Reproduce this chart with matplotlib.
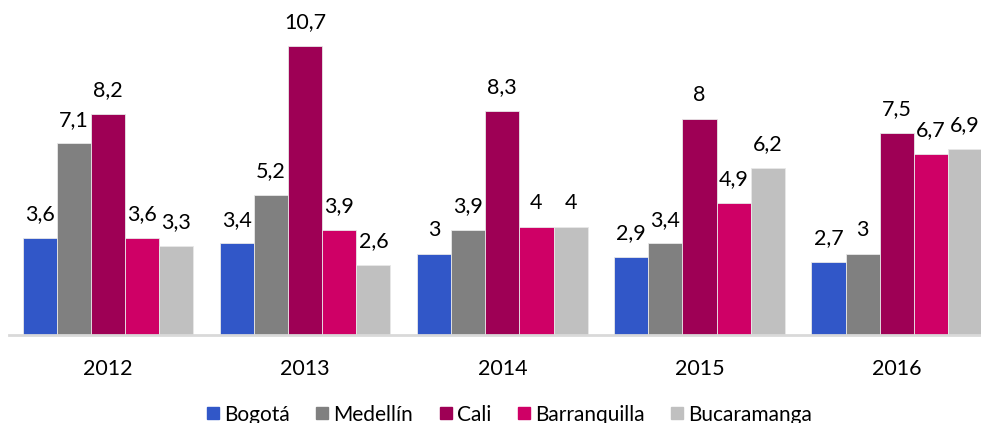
import numpy as np
import matplotlib.pyplot as plt
from matplotlib.lines import Line2D

years = ['2012', '2013', '2014', '2015', '2016']
cities = ['Bogotá', 'Medellín', 'Cali', 'Barranquilla', 'Bucaramanga']
bogota = [3.6, 3.4, 3.0, 2.9, 2.7]
medellin = [7.1, 5.2, 3.9, 3.4, 3.0]
cali = [8.2, 10.7, 8.3, 8.0, 7.5]
barranquilla = [3.6, 3.9, 4.0, 4.9, 6.7]
bucaramanga = [3.3, 2.6, 4.0, 6.2, 6.9]
colors = ['#3157C8', '#808080', '#9E0055', '#CF0066', '#C0C0C0']

series = [bogota, medellin, cali, barranquilla, bucaramanga]

plt.rcParams['font.family'] = ['Lato', 'DejaVu Sans']

fig = plt.figure(figsize=(9.81, 4.23), dpi=100)
ax = fig.add_axes([0.0096, 0.208, 1.005, 0.766])

x = np.arange(len(years))
w = 0.173
for i, (vals, c) in enumerate(zip(series, colors)):
    pos = x + (i - 2) * w
    ax.bar(pos, vals, width=w, color=c, edgecolor='#e8e8e8', linewidth=0.6,
           label=cities[i])
    for xp, v in zip(pos, vals):
        txt = ('%g' % v).replace('.', ',')
        ax.annotate(txt, (xp, v), xytext=(0, 17), textcoords='offset points',
                    ha='center', va='center', fontsize=15.5, color='black')

ax.set_xlim(-0.5, 4.5)
ax.set_ylim(0, 12)
ax.set_yticks([])
ax.set_xticks(x)
ax.set_xticklabels(years, fontsize=15.5)
ax.tick_params(axis='x', length=0, pad=17)
for s in ['top', 'right', 'left']:
    ax.spines[s].set_visible(False)
ax.spines['bottom'].set_color('#d9d9d9')
ax.spines['bottom'].set_linewidth(2)

handles = [Line2D([], [], marker='s', linestyle='none', markersize=9,
                  markerfacecolor=c, markeredgecolor=c) for c in colors]
fig.legend(handles, cities, loc='center', bbox_to_anchor=(0.517, 0.02),
           ncol=5, frameon=False, fontsize=15, handletextpad=0.05,
           columnspacing=1.05, handlelength=1.0)

fig.savefig('out.png', dpi=100)
